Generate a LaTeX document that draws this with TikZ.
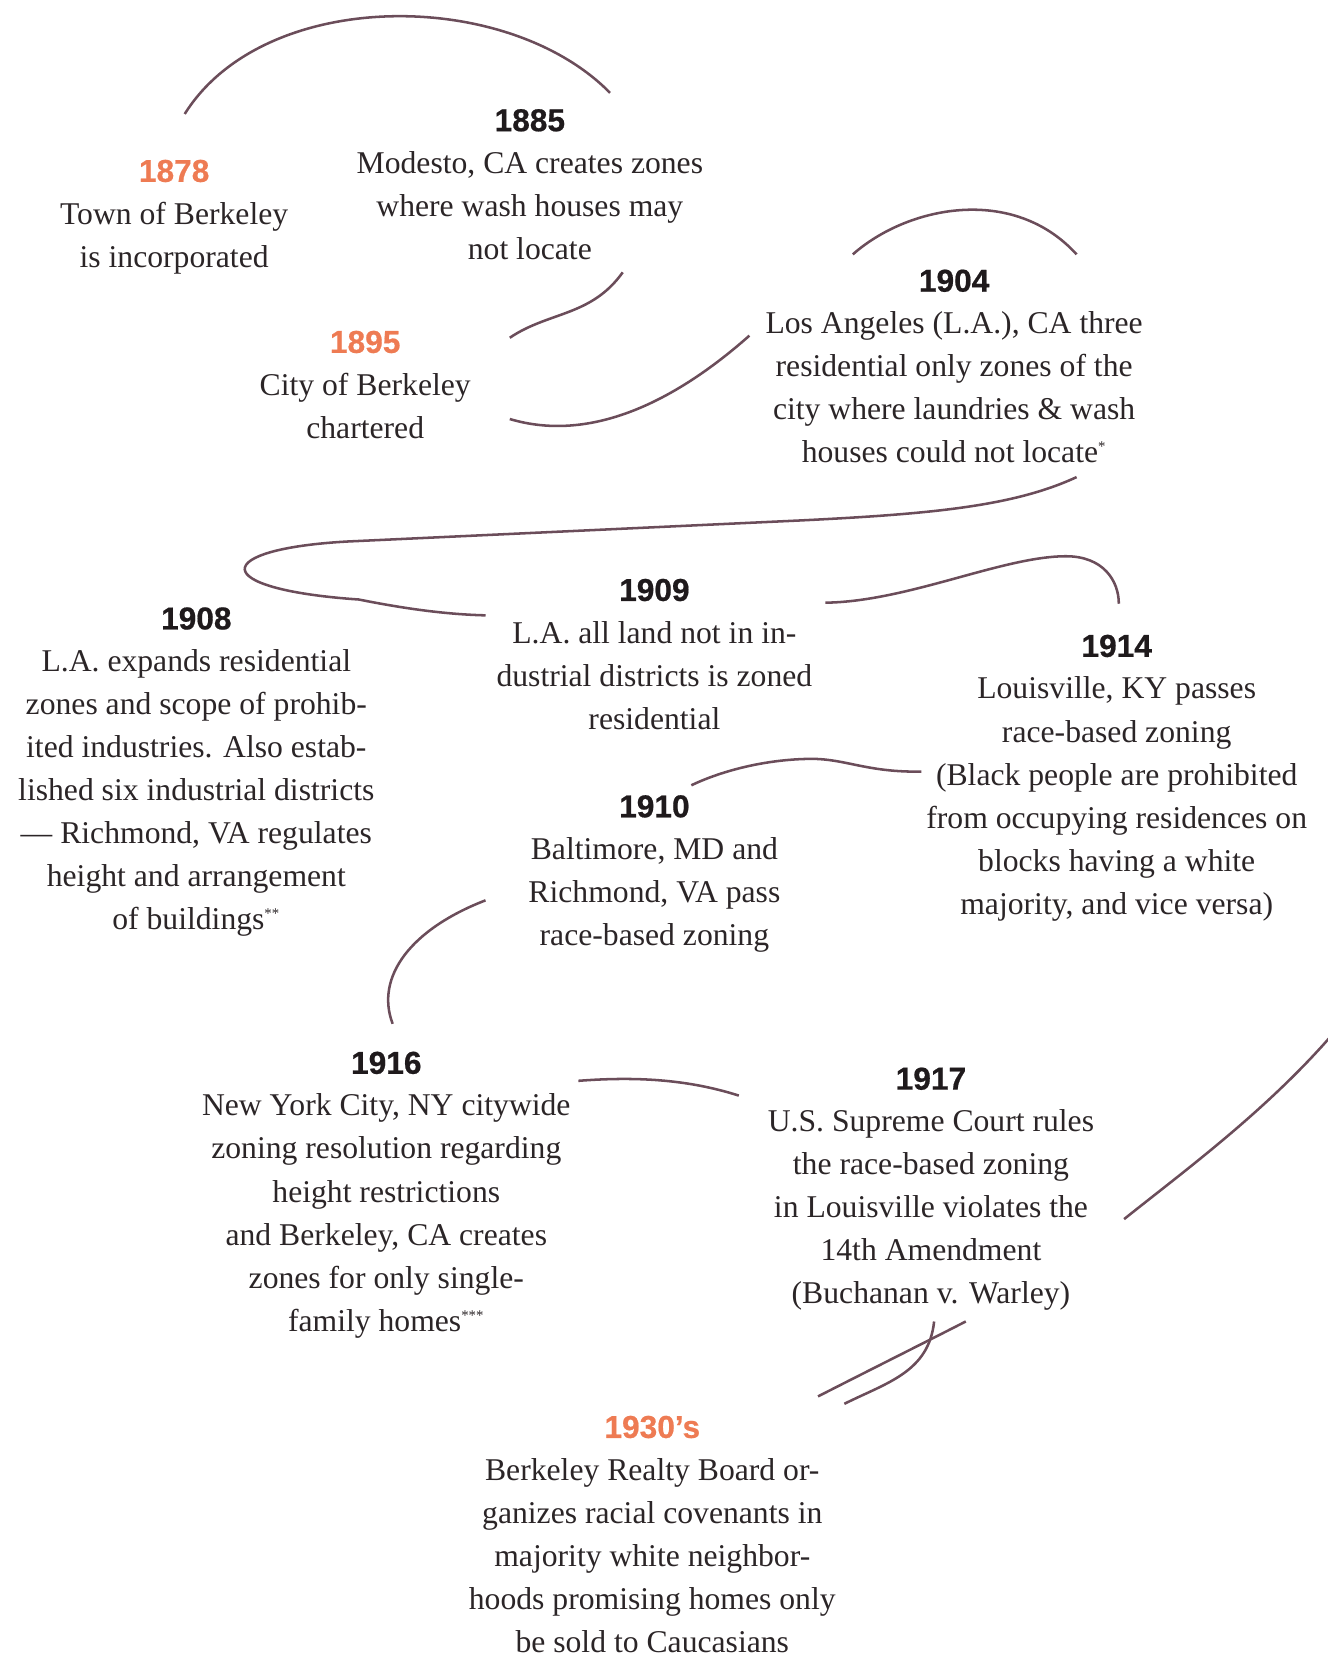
\documentclass[tikz,border=0pt]{standalone}
\usepackage{fontspec}
\setmainfont{Liberation Serif}
\newfontfamily\yearfont[FakeBold=0.6]{Liberation Sans}
\usetikzlibrary{positioning}
\definecolor{plum}{HTML}{6B4D5A}
\definecolor{ink}{HTML}{2B2527}
\definecolor{yeardark}{HTML}{1F1A1C}
\definecolor{yearhot}{HTML}{EE7B53}
\tikzset{
  year/.style={inner sep=0pt, text=yeardark, font=\yearfont\bfseries\fontsize{15}{15}\selectfont},
  yearhi/.style={year, text=yearhot},
  body/.style={inner sep=0pt, align=center, text=ink, font=\fontsize{15}{20.4}\selectfont},
  thread/.style={draw=plum, line width=1.2pt}
}
\newcommand{\fn}[1]{\textsuperscript{\fontsize{7}{7}\selectfont #1}}

\begin{document}
\begin{tikzpicture}[x=0.5pt,y=-0.5pt]
    \useasboundingbox (0,0) rectangle (1258,1568);
    \node[yearhi] (y1878) at (165,162) {1878};
    \node[body, below=9pt of y1878] (t1878) {Town of Berkeley\\is incorporated};
    \node[year] (y1885) at (502,114) {1885};
    \node[body, below=9pt of y1885] (t1885) {Modesto, CA creates zones\\where wash houses may\\not locate};
    \node[yearhi] (y1895) at (346,324) {1895};
    \node[body, below=9pt of y1895] (t1895) {City of Berkeley\\chartered};
    \node[year] (y1904) at (904,266) {1904};
    \node[body, below=9pt of y1904] (t1904) {Los Angeles (L.A.), CA three\\residential only zones of the\\city where laundries \& wash\\houses could not locate\fn{*}};
    \node[year] (y1908) at (186,586) {1908};
    \node[body, below=9pt of y1908] (t1908) {L.A. expands residential\\zones and scope of prohib-\\ited industries. Also estab-\\lished six industrial districts\\--- Richmond, VA regulates\\height and arrangement\\of buildings\fn{**}};
    \node[year] (y1909) at (620,559) {1909};
    \node[body, below=9pt of y1909] (t1909) {L.A. all land not in in-\\dustrial districts is zoned\\residential};
    \node[year] (y1914) at (1058,612) {1914};
    \node[body, below=9pt of y1914] (t1914) {Louisville, KY passes\\race-based zoning\\(Black people are prohibited\\from occupying residences on\\blocks having a white\\majority, and vice versa)};
    \node[year] (y1910) at (620,764) {1910};
    \node[body, below=9pt of y1910] (t1910) {Baltimore, MD and\\Richmond, VA pass\\race-based zoning};
    \node[year] (y1916) at (366,1007) {1916};
    \node[body, below=9pt of y1916] (t1916) {New York City, NY citywide\\zoning resolution regarding\\height restrictions\\and Berkeley, CA creates\\zones for only single-\\family homes\fn{***}};
    \node[year] (y1917) at (882,1022) {1917};
    \node[body, below=9pt of y1917] (t1917) {U.S. Supreme Court rules\\the race-based zoning\\in Louisville violates the\\14th Amendment\\(Buchanan v. Warley)};
    \node[yearhi] (y1930) at (618,1352) {1930’s};
    \node[body, below=9pt of y1930] (t1930) {Berkeley Realty Board or-\\ganizes racial covenants in\\majority white neighbor-\\hoods promising homes only\\be sold to Caucasians};
    \coordinate (k1s) at (175,108);
    \coordinate (k1e) at (578,88);
    \coordinate (k2s) at (590,258);
    \coordinate (k2e) at (483,320);
    \coordinate (k3s) at (483,397);
    \coordinate (k3e) at (710,318);
    \coordinate (k4s) at (808,241);
    \coordinate (k4e) at (1020,241);
    \coordinate (k5s) at (1020,452);
    \coordinate (k5e) at (460,583);
    \coordinate (k6s) at (782,571);
    \coordinate (k6e) at (1060,572);
    \coordinate (k7s) at (873,731);
    \coordinate (k7e) at (655,744);
    \coordinate (k8s) at (460,853);
    \coordinate (k8e) at (372,970);
    \coordinate (k9s) at (548,1024);
    \coordinate (k9e) at (700,1038);
    \coordinate (k10s) at (1065,1155);
    \coordinate (k10e) at (1275,965);
    \coordinate (k11s) at (915,1252);
    \coordinate (k11e) at (775,1323);
    \coordinate (k12s) at (885,1252);
    \coordinate (k12e) at (800,1330);
    \draw[thread] (k1s) .. controls (250,-12) and (480,-12) .. (k1e);
    \draw[thread] (k2s) .. controls (560,300) and (520,295) .. (k2e);
    \draw[thread] (k3s) .. controls (560,420) and (640,380) .. (k3e);
    \draw[thread] (k4s) .. controls (860,195) and (960,175) .. (k4e);
    \draw[thread] (k5s) .. controls (960,480) and (880,487) .. (760,493)
      -- (330,513) .. controls (200,520) and (195,558) .. (340,568)
      .. controls (380,576) and (420,582) .. (k5e);
    \draw[thread] (k6s) .. controls (860,570) and (950,527) .. (1010,527)
      .. controls (1045,527) and (1060,550) .. (k6e);
    \draw[thread] (k7s) .. controls (820,732) and (800,718) .. (765,719)
      .. controls (720,720) and (680,732) .. (k7e);
    \draw[thread] (k8s) .. controls (390,880) and (355,925) .. (k8e);
    \draw[thread] (k9s) .. controls (600,1020) and (650,1022) .. (k9e);
    \draw[thread] (k10s) .. controls (1125,1107) and (1210,1045) .. (k10e);
    \draw[thread] (k11s) .. controls (870,1275) and (820,1300) .. (k11e);
    \draw[thread] (k12s) .. controls (880,1300) and (840,1310) .. (k12e);
\end{tikzpicture}
\end{document}
